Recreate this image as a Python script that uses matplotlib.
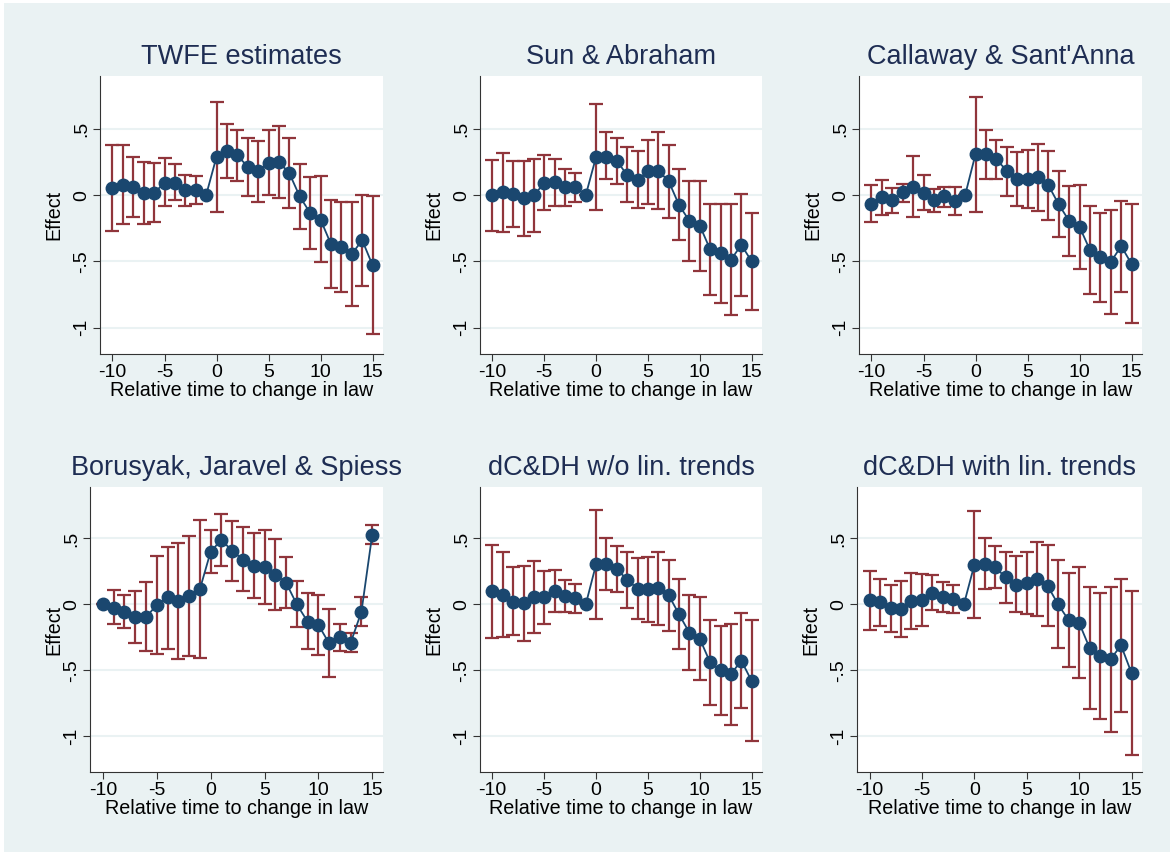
import matplotlib
matplotlib.use("Agg")
import matplotlib.pyplot as plt
import numpy as np
from matplotlib.patches import Rectangle

plt.rcParams['font.family'] = ['Liberation Sans', 'DejaVu Sans']
plt.rcParams['axes.unicode_minus'] = False

x = list(range(-10, 16))

titles = ["TWFE estimates", "Sun & Abraham", "Callaway & Sant'Anna",
          "Borusyak, Jaravel & Spiess", "dC&DH w/o lin. trends", "dC&DH with lin. trends"]

twfe_est = [0.055,0.075,0.06,0.015,0.015,0.095,0.095,0.04,0.04,0.0,
            0.29,0.33,0.30,0.215,0.185,0.245,0.25,0.165,-0.01,-0.135,-0.185,-0.37,-0.39,-0.445,-0.34,-0.53]
twfe_hi = [0.375,0.375,0.285,0.25,0.24,0.28,0.235,0.155,0.145,0.0,
           0.70,0.54,0.495,0.435,0.41,0.495,0.525,0.435,0.235,0.14,0.145,-0.035,-0.055,-0.055,0.0,-0.005]
twfe_lo = [-0.27,-0.215,-0.165,-0.215,-0.205,-0.085,-0.035,-0.08,-0.07,0.0,
           -0.125,0.13,0.11,-0.005,-0.05,0.0,-0.02,-0.095,-0.255,-0.41,-0.505,-0.70,-0.73,-0.84,-0.69,-1.05]

sa_est = [0.0,0.02,0.01,-0.025,0.0,0.09,0.1,0.06,0.06,0.0,
          0.29,0.29,0.26,0.15,0.115,0.18,0.185,0.105,-0.075,-0.195,-0.23,-0.41,-0.44,-0.49,-0.375,-0.5]
sa_hi = [0.265,0.32,0.26,0.255,0.275,0.30,0.275,0.2,0.165,0.0,
         0.69,0.475,0.43,0.36,0.33,0.42,0.475,0.38,0.195,0.105,0.105,-0.065,-0.065,-0.065,0.01,-0.135]
sa_lo = [-0.27,-0.275,-0.24,-0.31,-0.28,-0.115,-0.08,-0.085,-0.05,0.0,
         -0.11,0.12,0.085,-0.055,-0.1,-0.065,-0.105,-0.17,-0.34,-0.495,-0.57,-0.755,-0.815,-0.905,-0.76,-0.865]

cs_est = [-0.065,-0.015,-0.04,0.02,0.065,0.015,-0.04,-0.01,-0.045,0.0,
          0.31,0.31,0.27,0.185,0.125,0.12,0.135,0.075,-0.07,-0.195,-0.24,-0.415,-0.47,-0.505,-0.385,-0.52]
cs_hi = [0.075,0.115,0.055,0.085,0.295,0.15,0.045,0.065,0.065,0.0,
         0.745,0.49,0.42,0.365,0.325,0.34,0.39,0.33,0.185,0.07,0.075,-0.085,-0.135,-0.11,-0.045,-0.07]
cs_lo = [-0.2,-0.15,-0.135,-0.05,-0.165,-0.115,-0.13,-0.09,-0.15,0.0,
         -0.13,0.12,0.12,-0.01,-0.085,-0.1,-0.12,-0.185,-0.315,-0.46,-0.555,-0.745,-0.81,-0.895,-0.735,-0.965]

bjs_est = [0.0,-0.025,-0.06,-0.095,-0.095,-0.005,0.055,0.025,0.065,0.115,
           0.40,0.49,0.405,0.34,0.295,0.285,0.225,0.165,0.0,-0.13,-0.155,-0.295,-0.25,-0.29,-0.055,0.53]
bjs_hi = [0.0,0.11,0.07,0.105,0.17,0.365,0.435,0.465,0.52,0.64,
          0.565,0.685,0.635,0.59,0.54,0.565,0.495,0.36,0.175,0.085,0.07,-0.035,-0.15,-0.22,0.055,0.60]
bjs_lo = [0.0,-0.15,-0.175,-0.29,-0.355,-0.375,-0.335,-0.415,-0.39,-0.405,
          0.235,0.29,0.18,0.10,0.05,0.0,-0.04,-0.03,-0.17,-0.34,-0.385,-0.55,-0.35,-0.36,-0.16,0.455]

dc_est = [0.10,0.075,0.02,0.01,0.06,0.055,0.105,0.065,0.05,0.0,
          0.305,0.31,0.27,0.185,0.12,0.115,0.125,0.07,-0.075,-0.215,-0.26,-0.44,-0.50,-0.53,-0.425,-0.58]
dc_hi = [0.45,0.40,0.28,0.295,0.33,0.255,0.26,0.185,0.155,0.0,
         0.715,0.50,0.44,0.395,0.35,0.36,0.40,0.335,0.19,0.075,0.055,-0.115,-0.16,-0.15,-0.065,-0.12]
dc_lo = [-0.255,-0.25,-0.235,-0.28,-0.22,-0.145,-0.06,-0.06,-0.065,0.0,
         -0.11,0.11,0.095,-0.03,-0.11,-0.13,-0.155,-0.205,-0.34,-0.50,-0.57,-0.76,-0.84,-0.915,-0.785,-1.035]

dct_est = [0.03,0.02,-0.03,-0.035,0.025,0.03,0.09,0.055,0.04,0.0,
           0.30,0.31,0.28,0.205,0.15,0.165,0.19,0.14,0.0,-0.12,-0.14,-0.33,-0.39,-0.415,-0.31,-0.52]
dct_hi = [0.25,0.195,0.145,0.18,0.24,0.23,0.22,0.17,0.145,0.0,
          0.71,0.50,0.44,0.40,0.365,0.40,0.47,0.45,0.335,0.235,0.28,0.13,0.085,0.135,0.19,0.105]
dct_lo = [-0.19,-0.165,-0.21,-0.25,-0.185,-0.165,-0.04,-0.055,-0.065,0.0,
          -0.10,0.12,0.125,0.01,-0.055,-0.07,-0.09,-0.16,-0.33,-0.475,-0.56,-0.79,-0.87,-0.97,-0.815,-1.14]

series = [(twfe_est, twfe_lo, twfe_hi), (sa_est, sa_lo, sa_hi), (cs_est, cs_lo, cs_hi),
          (bjs_est, bjs_lo, bjs_hi), (dc_est, dc_lo, dc_hi), (dct_est, dct_lo, dct_hi)]

W, H = 1175, 856
fig = plt.figure(figsize=(W/100, H/100), dpi=100)
fig.patch.set_facecolor('white')
fig.patches.append(Rectangle((4/W, 4/H), 1166/W, 849/H, transform=fig.transFigure,
                             facecolor='#eaf2f3', edgecolor='none', zorder=-10))

# pixel boxes (left, top, right, bottom)
boxes = [(100, 76, 383, 354), (480, 76, 762, 354), (859, 76, 1142, 354),
         (90, 487, 383, 772), (480, 487, 762, 772), (857, 487, 1142, 772)]
navy = '#1a476f'
maroon = '#90353b'
for i, (bx, (est, lo, hi)) in enumerate(zip(boxes, series)):
    l, t, r, b = bx
    ax = fig.add_axes([l/W, 1-b/H, (r-l)/W, (b-t)/H])
    ax.set_facecolor('white')
    ax.set_xlim(-11.2, 16.0)
    if i < 3:
        ax.set_ylim(-1.2, 0.9)
    else:
        ax.set_ylim(-1.27, 0.89)
    est = np.array(est); lo = np.array(lo); hi = np.array(hi)
    ax.errorbar(x, est, yerr=[est-lo, hi-est], fmt='none', ecolor=maroon,
                elinewidth=1.6, capsize=5, capthick=1.6, zorder=2)
    ax.plot(x, est, '-o', color=navy, lw=1.3, ms=9, zorder=3)
    ax.set_yticks([-1, -0.5, 0, 0.5])
    ax.set_yticklabels(['-1', '-.5', '0', '.5'], rotation=90, va='center')
    ax.set_xticks([-10, -5, 0, 5, 10, 15])
    ax.set_xticklabels(['-10', '-5', '0', '5', '10', '15'])
    ax.grid(axis='y', color='#eaf2f3', lw=1.5)
    ax.set_axisbelow(True)
    for s in ['top', 'right']:
        ax.spines[s].set_visible(False)
    for s in ['left', 'bottom']:
        ax.spines[s].set_color('#333333')
    ax.tick_params(labelsize=14, colors='black', length=5, color='#333333', pad=2)
    ax.set_xlabel('Relative time to change in law', fontsize=14.2, labelpad=0)
    ax.set_ylabel('Effect', fontsize=14.2)
    ax.yaxis.set_label_coords(-37/(r-l) if i != 3 else -27/(r-l), 0.5)
    ax.set_title(titles[i], fontsize=19.5, color='#1e2d53', pad=9)

fig.savefig('out.png', dpi=100)
